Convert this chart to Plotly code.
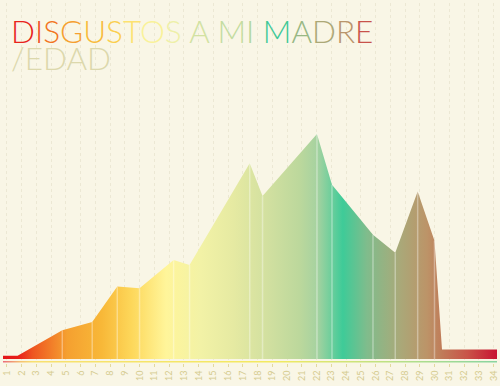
import plotly.graph_objects as go

# --- data ---
ages = [0.73, 1.72, 4.75, 6.78, 8.48, 9.99, 12.30, 13.38, 17.46, 18.33,
        22.02, 23.04, 25.82, 27.33, 28.85, 29.99, 30.50, 34.23]
disgustos = [0.7, 0.7, 6.4, 8.2, 16.1, 15.7, 22.0, 20.9, 43.5, 36.2,
             50.0, 38.7, 27.6, 23.6, 37.2, 26.3, 2.1, 2.1]
tick_ages = list(range(1, 35))
tick_labels = [str(a) for a in tick_ages]

title_letters = list("DISGUSTOS A MI MADRE")
title_colors = ["#E8231C", "#EE4B1E", "#F27522", "#F5A030", "#F8BB3A", "#FBCF4E",
                "#FDE270", "#F9F29A", "#EEF0A8", None, "#D2E2A2", None, "#C3DCA0",
                "#B2D69E", None, "#3DC897", "#98B884", "#ACA877", "#B9956C", "#C8524A"]

fill_scale = [
    [0.00, "#E3161B"], [0.03, "#E81E18"], [0.06, "#EE5520"], [0.13, "#F5A030"],
    [0.20, "#F8B838"], [0.26, "#FDD75A"], [0.33, "#FFF59A"], [0.40, "#F2F2A6"],
    [0.465, "#E6EAA2"], [0.535, "#D2E0A0"], [0.60, "#BCD89C"], [0.636, "#A6D2A0"],
    [0.688, "#3ECB98"], [0.737, "#80BC8C"], [0.80, "#A8AA7A"], [0.858, "#BC9468"],
    [0.89, "#C07A58"], [0.94, "#C95448"], [1.00, "#C81432"]]

axis_scale = [[0.0, "#EC6A7A"], [0.035, "#F5C070"], [0.06, "#F8E070"], [0.55, "#F3EA60"],
              [0.80, "#B8E088"], [1.0, "#88D4A0"]]

BG = "#F9F6E6"

fig = go.Figure()

# gradient area
fig.add_trace(go.Scatter(
    x=ages, y=disgustos, mode="lines", fill="tozeroy",
    line=dict(width=0, color="rgba(0,0,0,0)"),
    fillgradient=dict(type="horizontal", colorscale=fill_scale),
    hoverinfo="skip", showlegend=False))

# white vertical lines at vertices
vx, vy = [], []
for a, v in zip(ages[2:16], disgustos[2:16]):
    vx += [a, a, None]
    vy += [0, v, None]
fig.add_trace(go.Scatter(x=vx, y=vy, mode="lines",
                         line=dict(color="rgba(255,255,255,0.35)", width=1.5),
                         hoverinfo="skip", showlegend=False))

# gradient axis line (decoration)
x0, x1 = min(ages), max(ages)
fig.add_trace(go.Scatter(
    x=[x0, x1, x1, x0, x0], y=[-0.42, -0.42, -0.8, -0.8, -0.42], mode="lines",
    fill="toself", line=dict(width=0, color="rgba(0,0,0,0)"),
    fillgradient=dict(type="horizontal", colorscale=axis_scale),
    hoverinfo="skip", showlegend=False))

title_html = "".join(
    c if col is None else f'<span style="color:{col}">{c}</span>'
    for c, col in zip(title_letters, title_colors))

fig.add_annotation(text=title_html, xref="paper", yref="paper", x=0.012, y=0.98,
                   xanchor="left", yanchor="top", showarrow=False,
                   font=dict(family="Lato", size=31.5, weight=300))
fig.add_annotation(text="/EDAD", xref="paper", yref="paper", x=0.012, y=0.905,
                   xanchor="left", yanchor="top", showarrow=False,
                   font=dict(family="Lato", size=31.5, weight=300, color="#DCD8AC"))

fig.update_layout(
    width=500, height=386, margin=dict(l=3, r=3, t=3, b=23, autoexpand=False),
    paper_bgcolor=BG, plot_bgcolor=BG,
    xaxis=dict(range=[0.73, 34.23], tickvals=tick_ages, ticktext=tick_labels,
               tickangle=-90, tickfont=dict(family="Lato", size=9, color="#D5CB8E"),
               ticks="outside", ticklen=3, tickcolor="#E2D9A0", tickwidth=1,
               showgrid=True, gridcolor="#ECE8D4", griddash="dot", gridwidth=1,
               zeroline=False, showline=False, fixedrange=True, automargin=False),
    yaxis=dict(range=[-0.89, 79.11], visible=False, showgrid=False, zeroline=False,
               automargin=False),
)

fig.write_html("out.html", config={"displayModeBar": False},
               post_script="document.body.style.margin='0';document.body.style.background='" + BG + "';")
